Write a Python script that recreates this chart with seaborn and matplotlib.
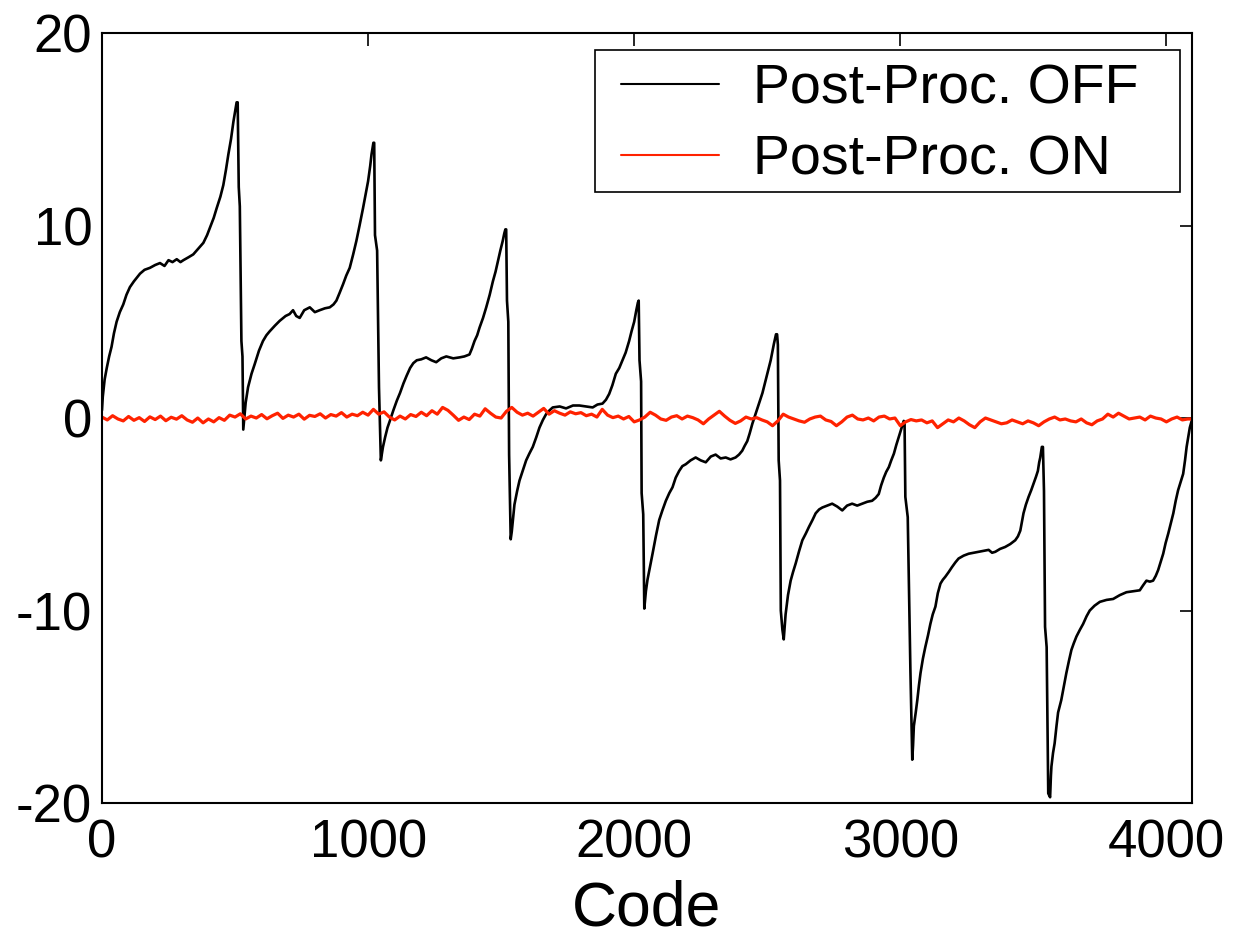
import matplotlib
matplotlib.use("Agg")
import matplotlib.pyplot as plt
from matplotlib import font_manager
from matplotlib.patches import Rectangle
import seaborn as sns
import pandas as pd

# ---------------- data ----------------
# Post-Proc. OFF (black): code / value pairs, 8 segments
off_code = [
    # seg 1
    0, 3, 10, 18, 27, 36, 45, 55, 67, 80, 92, 105, 120, 143, 160, 180, 200, 218, 235, 250,
    265, 281, 295, 306, 325, 343, 362, 381, 395, 406, 420, 431, 445, 456, 466, 475, 485, 494, 500, 506,
    510, 514, 518, 524, 528,
    # seg 2
    531, 540, 549, 562, 574, 590, 605, 618, 630, 650, 668, 690, 705, 718, 730, 743, 760, 781, 800, 818,
    838, 856, 870, 881, 893, 906, 918, 931, 944, 956, 968, 981, 992, 1000, 1008, 1013, 1020,
    1023, 1026, 1034, 1041,
    # seg 3
    1048, 1056, 1064, 1073, 1083, 1095, 1108, 1120, 1133, 1145, 1158, 1170, 1183, 1200, 1218, 1238, 1256, 1275,
    1294, 1320, 1344, 1362, 1381, 1390, 1400, 1410, 1419, 1432, 1444, 1457, 1469, 1479, 1488, 1497, 1506, 1512, 1516,
    1519, 1522, 1527, 1530,
    # seg 4
    1536, 1540, 1550, 1560, 1569, 1582, 1594, 1606, 1619, 1632, 1644, 1657, 1669, 1682, 1694, 1720, 1744, 1770,
    1794, 1820, 1844, 1862, 1881, 1894, 1906, 1918, 1931, 1944, 1956, 1968, 1981, 1990, 2000, 2008, 2014,
    2017, 2020, 2026, 2028, 2034,
    # seg 5
    2038, 2044, 2050, 2060, 2069, 2082, 2094, 2106, 2119, 2132, 2144, 2156, 2169, 2181, 2194, 2212, 2231, 2250,
    2269, 2288, 2306, 2325, 2344, 2362, 2381, 2394, 2406, 2415, 2425, 2434, 2444, 2456, 2469, 2482, 2494, 2504,
    2513, 2520, 2525, 2533,
    2537, 2540, 2543, 2548, 2551, 2557,
    # seg 6
    2562, 2569, 2578, 2588, 2597, 2607, 2620, 2632, 2645, 2657, 2670, 2682, 2695, 2707, 2725, 2744, 2763, 2782,
    2800, 2819, 2838, 2857, 2876, 2894, 2907, 2919, 2928, 2938, 2947, 2957, 2966, 2976, 2985, 2994, 3004, 3013,
    3016, 3019, 3028, 3038,
    # seg 7
    3045, 3048, 3051, 3058, 3064, 3070, 3076, 3085, 3094, 3104, 3113, 3122, 3132, 3141, 3151, 3160, 3169, 3182,
    3194, 3207, 3219, 3238, 3257, 3276, 3294, 3313, 3332, 3345, 3357, 3375, 3394, 3413, 3432, 3442, 3451, 3457,
    3463, 3472, 3482, 3492, 3501, 3510, 3517, 3522, 3526, 3532,
    3536, 3540, 3544, 3550, 3556,
    # seg 8
    3563, 3566, 3568, 3574, 3580, 3587, 3593, 3605, 3615, 3624, 3634, 3643, 3652, 3662, 3675, 3687, 3700, 3712,
    3730, 3750, 3775, 3800, 3825, 3850, 3875, 3900, 3912, 3925, 3938, 3950, 3960, 3969, 3978, 3988, 3997, 4007,
    4016, 4026, 4035, 4044, 4054, 4063, 4070, 4076, 4082, 4088, 4095,
]
off_value = [
    # seg 1
    0.4, 1.1, 2.0, 2.6, 3.2, 3.7, 4.4, 5.0, 5.5, 5.9, 6.4, 6.8, 7.1, 7.5, 7.7, 7.8, 7.95, 8.05, 7.9, 8.2,
    8.1, 8.25, 8.1, 8.2, 8.35, 8.5, 8.8, 9.1, 9.5, 9.9, 10.4, 10.9, 11.5, 12.1, 12.9, 13.7, 14.5, 15.4, 15.9, 16.4,
    16.4, 12.0, 11.0, 4.0, 3.2,
    # seg 2
    -0.6, 0.8, 1.6, 2.3, 2.8, 3.5, 4.0, 4.3, 4.5, 4.8, 5.05, 5.3, 5.4, 5.6, 5.3, 5.2, 5.6, 5.75, 5.5, 5.6,
    5.7, 5.75, 5.9, 6.1, 6.5, 6.95, 7.4, 7.8, 8.5, 9.2, 10.0, 10.9, 11.7, 12.3, 13.1, 13.7, 14.3,
    14.3, 9.5, 8.7, 1.6,
    # seg 3
    -2.2, -1.5, -1.0, -0.5, -0.1, 0.4, 0.9, 1.3, 1.8, 2.2, 2.6, 2.85, 3.0, 3.05, 3.15, 3.0, 2.9, 3.1,
    3.2, 3.1, 3.15, 3.2, 3.3, 3.6, 4.0, 4.3, 4.7, 5.2, 5.75, 6.4, 7.1, 7.6, 8.15, 8.7, 9.2, 9.6, 9.8,
    9.8, 6.1, 5.0, -1.9,
    # seg 4
    -6.3, -5.9, -4.5, -3.8, -3.25, -2.7, -2.2, -1.85, -1.5, -1.0, -0.5, -0.1, 0.2, 0.4, 0.55, 0.6, 0.5, 0.65,
    0.65, 0.6, 0.55, 0.7, 0.75, 0.95, 1.25, 1.7, 2.3, 2.6, 3.0, 3.4, 4.0, 4.5, 5.0, 5.6, 6.0,
    6.1, 3.0, 1.9, -3.9, -5.0,
    # seg 5
    -9.9, -9.0, -8.4, -7.7, -7.05, -6.1, -5.3, -4.8, -4.3, -3.9, -3.6, -3.1, -2.75, -2.5, -2.4, -2.2, -2.05, -2.2,
    -2.3, -2.0, -1.9, -2.1, -2.05, -2.15, -2.05, -1.9, -1.7, -1.45, -1.2, -0.8, -0.3, 0.2, 0.75, 1.3, 1.95, 2.5,
    3.0, 3.5, 3.85, 4.35,
    4.35, 3.8, -2.2, -3.25, -10.0, -11.0,
    # seg 6
    -11.5, -10.2, -9.2, -8.45, -8.0, -7.55, -6.9, -6.35, -6.0, -5.65, -5.3, -4.95, -4.75, -4.65, -4.55, -4.45, -4.6, -4.8,
    -4.55, -4.45, -4.55, -4.45, -4.35, -4.3, -4.15, -3.95, -3.5, -3.1, -2.8, -2.55, -2.2, -1.85, -1.4, -1.0, -0.55, -0.15,
    -0.2, -4.1, -5.15, -13.1,
    # seg 7
    -17.75, -17.0, -16.0, -15.3, -14.65, -13.9, -13.25, -12.5, -11.9, -11.3, -10.7, -10.2, -9.8, -9.1, -8.6, -8.4, -8.25, -8.0,
    -7.75, -7.5, -7.3, -7.15, -7.05, -7.0, -6.95, -6.9, -6.85, -7.0, -6.95, -6.8, -6.7, -6.55, -6.35, -6.15, -5.85, -5.4,
    -4.95, -4.5, -4.1, -3.75, -3.4, -3.05, -2.75, -2.3, -2.05, -1.5,
    -1.5, -3.8, -10.85, -11.9, -19.5,
    # seg 8
    -19.7, -18.6, -18.1, -17.4, -16.9, -16.0, -15.3, -14.65, -13.9, -13.25, -12.6, -12.05, -11.7, -11.35, -11.0, -10.7, -10.3, -10.0,
    -9.75, -9.55, -9.45, -9.4, -9.2, -9.05, -9.0, -8.95, -8.7, -8.45, -8.5, -8.45, -8.2, -7.9, -7.5, -7.05, -6.5, -6.0,
    -5.5, -4.95, -4.3, -3.75, -3.3, -2.9, -2.2, -1.5, -1.0, -0.5, -0.15,
]

# Post-Proc. ON (red): sampled every 20 codes, plus last code
on_code = list(range(0, 4096, 20)) + [4095]
on_value = [
    0.05, -0.10, 0.12, -0.05, -0.15, 0.08, -0.12, 0.02, -0.18, 0.06,
    -0.08, 0.10, -0.14, 0.04, -0.06, 0.12, -0.10, -0.22, 0.00, -0.25,
    -0.05, -0.20, 0.02, -0.12, 0.15, 0.05, 0.22, -0.05, 0.10, 0.00,
    0.18, -0.04, 0.12, 0.25, -0.02, 0.15, 0.05, 0.20, -0.06, 0.14,
    0.08, 0.22, 0.00, 0.18, 0.10, 0.28, 0.05, 0.20, 0.12, 0.30,
    0.15, 0.45, 0.20, 0.32, 0.05, -0.10, 0.10, -0.05, 0.18, 0.08,
    0.30, 0.12, 0.38, 0.20, 0.55, 0.40, 0.15, -0.12, 0.05, -0.08,
    0.20, 0.10, 0.48, 0.25, 0.05, 0.00, 0.35, 0.55, 0.30, 0.15,
    0.25, 0.10, 0.30, 0.50, 0.20, 0.38, 0.25, 0.15, 0.32, 0.22,
    0.28, 0.12, 0.20, 0.05, 0.45, 0.15, 0.02, 0.10, -0.05, 0.08,
    -0.20, -0.10, 0.05, 0.30, 0.15, -0.05, -0.12, 0.05, 0.12, -0.05,
    0.10, 0.02, -0.10, -0.30, -0.05, 0.15, 0.35, 0.10, -0.12, -0.28,
    -0.15, 0.05, -0.05, 0.02, -0.10, -0.20, -0.40, -0.15, 0.20, 0.05,
    -0.05, -0.15, -0.22, -0.05, 0.05, 0.10, -0.10, -0.18, -0.40, -0.20,
    0.05, 0.15, -0.05, -0.10, 0.00, -0.15, 0.05, 0.10, -0.05, 0.00,
    -0.40, -0.20, -0.08, -0.15, -0.10, -0.25, -0.15, -0.50, -0.30, -0.10,
    -0.20, 0.00, -0.15, -0.35, -0.50, -0.20, 0.00, -0.10, -0.20, -0.30,
    -0.25, -0.10, -0.20, -0.30, -0.15, -0.25, -0.40, -0.20, -0.05, 0.05,
    -0.10, -0.05, -0.15, -0.20, -0.05, -0.25, -0.35, -0.15, -0.05, 0.20,
    0.05, 0.25, 0.10, -0.05, 0.00, 0.05, -0.10, 0.10, 0.00, -0.05,
    -0.20, -0.05, 0.05, -0.10, -0.05,
    -0.05,
]

labels = ["Post-Proc. OFF", "Post-Proc. ON"]
x_ticks = [0, 1000, 2000, 3000, 4000]
y_ticks = [-20, -10, 0, 10, 20]
x_label = "Code"

# ---------------- style ----------------
sns.set_theme(style="white")
avail = {f.name for f in font_manager.fontManager.ttflist}
fam = "Liberation Sans" if "Liberation Sans" in avail else "DejaVu Sans"
plt.rcParams["font.family"] = [fam, "DejaVu Sans"]
plt.rcParams["axes.unicode_minus"] = False
plt.rcParams["text.color"] = "black"
plt.rcParams["axes.labelcolor"] = "black"
plt.rcParams["xtick.color"] = "black"
plt.rcParams["ytick.color"] = "black"

fig = plt.figure(figsize=(12.33, 9.36), dpi=100)
ax = fig.add_axes([0.0827, 0.1421, 0.884, 0.8226])

df_off = pd.DataFrame({"code": off_code, "value": off_value})
df_on = pd.DataFrame({"code": on_code, "value": on_value})

sns.lineplot(data=df_off, x="code", y="value", color="black", linewidth=1.9,
             sort=False, estimator=None, label=labels[0], ax=ax)
sns.lineplot(data=df_on, x="code", y="value", color="#ff2200", linewidth=2.3,
             sort=False, estimator=None, label=labels[1], ax=ax)

ax.set_xlim(0, 4096)
ax.set_ylim(-20, 20)
ax.set_xticks(x_ticks)
ax.set_yticks(y_ticks)
ax.set_xlabel(x_label, fontsize=45, labelpad=8, color="black")
ax.set_ylabel("")
ax.tick_params(axis="both", which="major", direction="in", length=9, width=1.2,
               top=True, right=True, labelsize=38, colors="black")
ax.tick_params(axis="x", pad=11)
ax.tick_params(axis="y", pad=7)
for sp in ax.spines.values():
    sp.set_visible(True)
    sp.set_color("black")
    sp.set_linewidth(1.5)

# legend: entries without frame, frame drawn as a rectangle in axes coords
leg = ax.legend(loc="upper left", bbox_to_anchor=(0.4765, 0.960), borderaxespad=0,
                fontsize=40, frameon=False, handlelength=1.75, handletextpad=0.62,
                borderpad=0, labelspacing=0.33)
for t in leg.get_texts():
    t.set_color("black")
for line in leg.get_lines():
    line.set_linewidth(1.5)
ax.add_patch(Rectangle((0.452, 0.7935), 0.537, 0.1845, transform=ax.transAxes,
                       fill=True, facecolor="white", edgecolor="black",
                       linewidth=1.2, zorder=4))
leg.set_zorder(5)

fig.savefig("out.png", dpi=100, facecolor="white")
